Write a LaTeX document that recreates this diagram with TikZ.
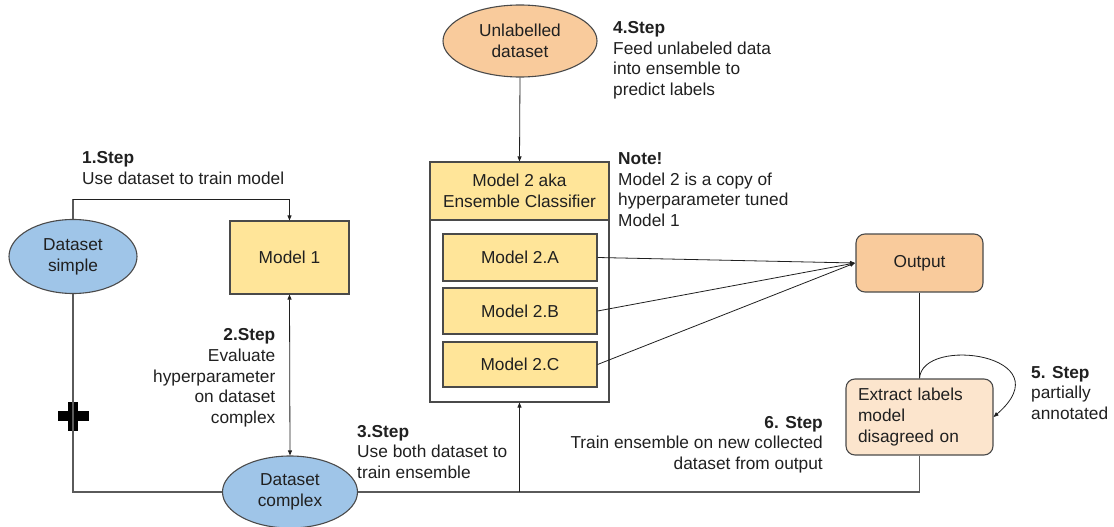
\documentclass[tikz,border=0pt]{standalone}
\usepackage{fontspec}
\setmainfont{Liberation Sans}
\usetikzlibrary{shapes.geometric,arrows.meta}

\definecolor{dsblue}{HTML}{9FC5E8}
\definecolor{mdyellow}{HTML}{FFE599}
\definecolor{outorange}{HTML}{F9CB9C}
\definecolor{paleorange}{HTML}{FCE5CD}
\definecolor{edgegray}{HTML}{4A4A4A}
\definecolor{linegray}{HTML}{5A5A5A}
\definecolor{inkcol}{HTML}{202020}

\tikzset{
  txt/.style={font=\fontsize{17.3}{20.7}\selectfont, text=inkcol, inner sep=0pt},
  dataell/.style={txt, ellipse, draw=edgegray, line width=1.1pt, fill=dsblue, align=center},
  modelbox/.style={txt, rectangle, draw=edgegray, line width=1.1pt, fill=mdyellow, align=center},
  roundbox/.style={txt, rectangle, rounded corners=9pt, draw=edgegray, line width=1.1pt},
  stepnote/.style={txt},
  arr/.style={draw=inkcol, line width=0.8pt, -{Triangle[length=5pt,width=4pt]}},
  biarr/.style={draw=inkcol, line width=0.8pt, {Triangle[length=5pt,width=4pt]}-{Triangle[length=5pt,width=4pt]}},
  flowline/.style={draw=linegray, line width=1.4pt},
}

\begin{document}
\begin{tikzpicture}[x=1pt, y=-1pt]
\useasboundingbox (0,0) rectangle (1114,527);

% data sources
\node[dataell, minimum width=128pt, minimum height=74pt] (dsimple) at (73,256.5) {Dataset\\simple};
\node[dataell, minimum width=135pt, minimum height=72pt] (dcomplex) at (290,492) {Dataset\\complex};
\node[dataell, fill=outorange, minimum width=154pt, minimum height=72pt] (unl) at (520,41) {Unlabelled\\dataset};

% first model
\node[modelbox, minimum width=119pt, minimum height=73pt] (model1) at (289.5,257.5) {Model 1};

% ensemble: header and container with its members
\node[modelbox, minimum width=179pt, minimum height=58pt] (header) at (519.5,191) {Model 2 aka\\Ensemble Classifier};
\node[rectangle, draw=edgegray, line width=1.1pt, fill=white, minimum width=179pt, minimum height=182pt, inner sep=0pt] (container) at (519.5,311) {};
\node[modelbox, minimum width=154pt, minimum height=47pt] (m2a) at (520,257.5) {Model 2.A};
\node[modelbox, minimum width=154pt, minimum height=46pt] (m2b) at (520,311) {Model 2.B};
\node[modelbox, minimum width=154pt, minimum height=45pt] (m2c) at (520,364.5) {Model 2.C};

% output and label extraction
\node[roundbox, fill=outorange, minimum width=127pt, minimum height=58pt] (output) at (919.5,263) {Output};
\node[roundbox, fill=paleorange, minimum width=147pt, minimum height=76pt, align=left, text width=123pt] (extract) at (919.5,417) {Extract labels\\model\\disagreed on};

% step annotations (anchored at the baseline of their last line)
\node[stepnote, anchor=base west, align=left] (step1) at (82,184.6) {\textbf{1.Step}\\Use dataset to train model};
\node[stepnote, anchor=base east, align=right] (step2) at (275.5,423.5) {\textbf{2.Step}\\Evaluate\\hyperparameter\\on dataset\\complex};
\node[stepnote, anchor=base west, align=left] (step3) at (357,478.5) {\textbf{3.Step}\\Use both dataset to\\train ensemble};
\node[stepnote, anchor=base west, align=left] (step4) at (613,95.5) {\textbf{4.Step}\\Feed unlabeled data\\into ensemble to\\predict labels};
\node[stepnote, anchor=base west, align=left] (note) at (618,226.5) {\textbf{Note!}\\Model 2 is a copy of\\hyperparameter tuned\\Model 1};
\node[stepnote, anchor=base west, align=left] (step5) at (1031,419.5) {\textbf{5. Step}\\partially\\annotated};
\node[stepnote, anchor=base east, align=right] (step6) at (823,469.5) {\textbf{6. Step}\\Train ensemble on new collected\\dataset from output};

% combining both datasets
\fill[black] (57.5,411) rectangle (88.5,421);
\fill[black] (68,401.5) rectangle (78,430.5);

% connectors
\coordinate (topbend) at (73,199);
\draw[flowline] (dsimple.north) -- (topbend);
\draw[arr] (topbend) -| (model1.north);
\draw[flowline] (dsimple.south) |- (dcomplex.west);
\draw[biarr] (model1.south) -- (dcomplex.north);
\draw[flowline] (dcomplex.east) -| (extract.south);
\draw[arr] (container.south |- dcomplex.east) -- (container.south);
\draw[arr] (unl.south) -- (header.north);
\coordinate (outin) at (855,263);
\draw[arr] (m2a.east) -- (outin);
\draw[arr] (m2b.east) -- (outin);
\draw[arr] (m2c.east) -- (outin);
\draw[draw=inkcol, line width=0.8pt] (output.south) -- (extract.north);
\draw[arr] (extract.north) .. controls (922,335) and (1065,355) .. (extract.east);

\end{tikzpicture}
\end{document}
